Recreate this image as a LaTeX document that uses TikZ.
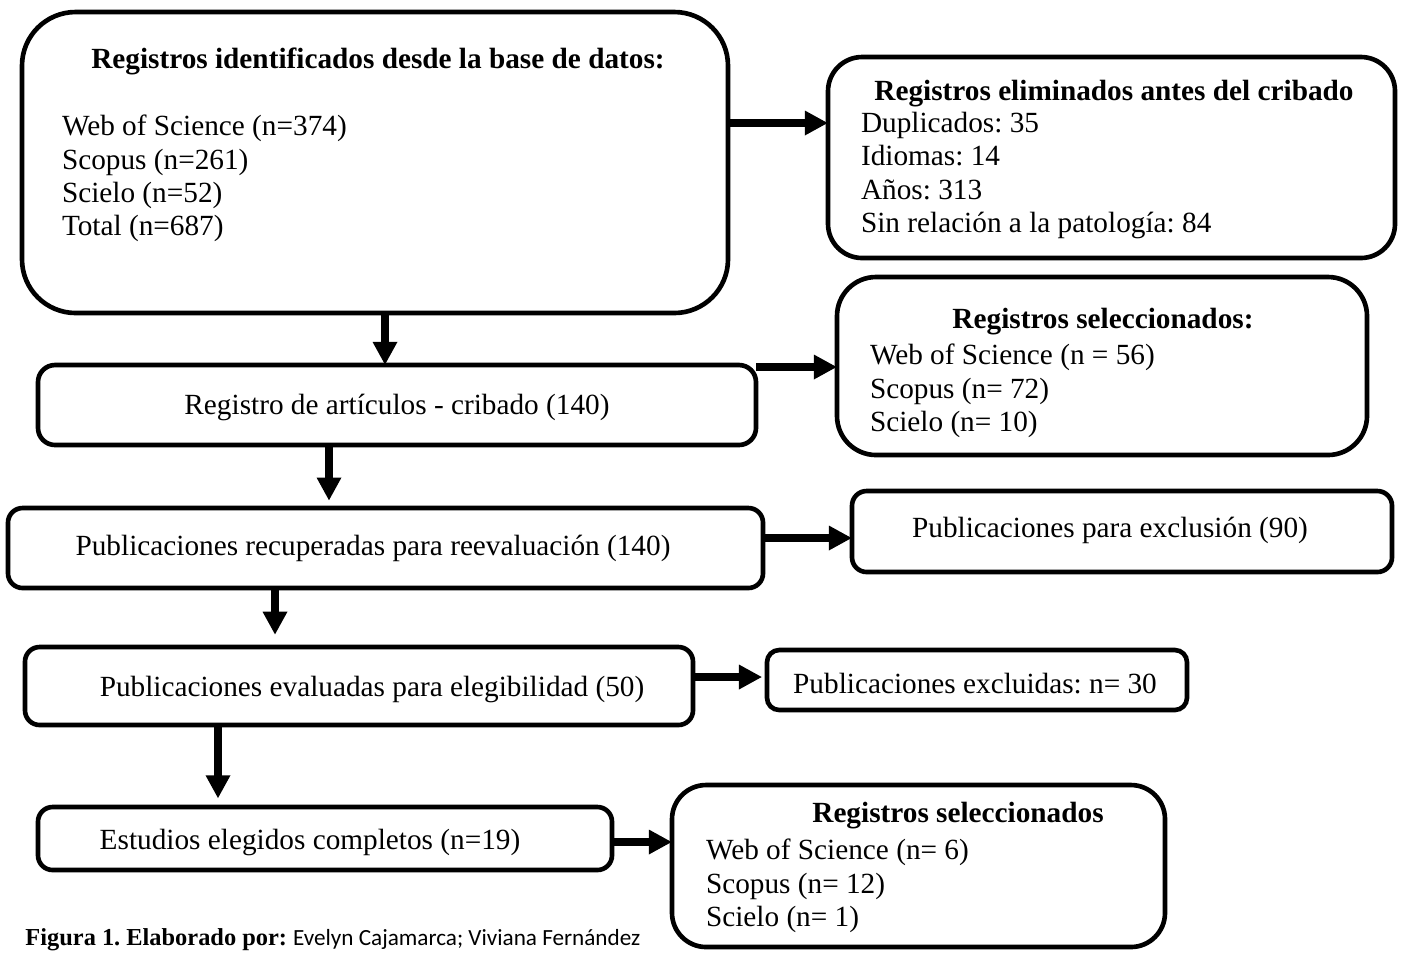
\documentclass[tikz,border=0pt]{standalone}
\usepackage{fontspec}
\setmainfont{Liberation Serif}
\newfontfamily\calibri{Carlito}
\usetikzlibrary{arrows.meta,fit}
\frenchspacing
\begin{document}
\begin{tikzpicture}[x=0.41pt,y=-0.41pt,
  box/.style={draw,line width=1.9pt,inner sep=0pt,outer sep=0pt},
  arr/.style={line width=2.9pt,-{Triangle[length=9.5pt,width=9.5pt]}},
  txt/.style={inner sep=0pt,outer sep=0pt,font=\fontsize{12}{13.7}\selectfont},
  lst/.style={txt,align=left,anchor=north west},
  ttl/.style={txt,anchor=base,font=\fontsize{12}{13.7}\selectfont\bfseries}]
\useasboundingbox (0,0) rectangle (1405,952);
\clip (0,0) rectangle (1405,952);
% boxes
\node[box,rounded corners=22pt,fit={(22,12) (728,313)}] (b1) {};
\node[box,rounded corners=14pt,fit={(828,57) (1395,258)}] (b2) {};
\node[box,rounded corners=7pt,fit={(38,365) (756,445)}] (b3) {};
\node[box,rounded corners=16pt,fit={(837,277) (1367,455)}] (b4) {};
\node[box,rounded corners=6pt,fit={(8,508) (763,588)}] (b5) {};
\node[box,rounded corners=6pt,fit={(852,491) (1392,572)}] (b6) {};
\node[box,rounded corners=6pt,fit={(25,647) (693,725)}] (b7) {};
\node[box,rounded corners=5pt,fit={(767,650) (1187,710)}] (b8) {};
\node[box,rounded corners=6pt,fit={(38,807) (612,870)}] (b9) {};
\node[box,rounded corners=14pt,fit={(672,785) (1165,947)}] (b10) {};
% texts
\node[ttl] (t1) at (378,68) {Registros identificados desde la base de datos:};
\node[lst] (l1) at (62,115) {Web of Science (n=374)\\Scopus (n=261)\\Scielo (n=52)\\Total (n=687)};
\node[ttl] (t2) at (1114,100) {Registros eliminados antes del cribado};
\node[lst] (l2) at (861,112) {Duplicados: 35\\Idiomas: 14\\Años: 313\\Sin relación a la patología: 84};
\node[txt,anchor=base] (t3) at (397,414) {Registro de artículos - cribado (140)};
\node[ttl] (t4) at (1103,328) {Registros seleccionados:};
\node[lst] (l4) at (870,344) {Web of Science (n = 56)\\Scopus (n= 72)\\Scielo (n= 10)};
\node[txt,anchor=base] (t5) at (373,555) {Publicaciones recuperadas para reevaluación (140)};
\node[txt,anchor=base] (t6) at (1110,537) {Publicaciones para exclusión (90)};
\node[txt,anchor=base] (t7) at (372,696) {Publicaciones evaluadas para elegibilidad (50)};
\node[txt,anchor=base] (t8) at (975,693) {Publicaciones excluidas: n= 30};
\node[txt,anchor=base] (t9) at (310,849) {Estudios elegidos completos (n=19)};
\node[ttl] (t10) at (958,822) {Registros seleccionados};
\node[lst] (l10) at (706,839) {Web of Science (n= 6)\\Scopus (n= 12)\\Scielo (n= 1)};
\node[inner sep=0pt,anchor=base west] (cap) at (25,945) {\fontsize{10}{12}\selectfont\bfseries Figura 1. Elaborado por: \calibri\mdseries\fontsize{9.5}{12}\selectfont Evelyn Cajamarca; Viviana Fernández};
% arrow levels
\coordinate (y1) at (0,123);
\coordinate (x2) at (385,0);
\coordinate (y3) at (0,367);
\coordinate (x4) at (329,0);
\coordinate (y5) at (0,538);
\coordinate (x6) at (275,0);
\coordinate (y7) at (0,677);
\coordinate (x8) at (218,0);
\coordinate (y9) at (0,842);
\draw[arr] (b1.east |- y1) -- (b2.west |- y1);
\draw[arr] (x2 |- b1.south) -- (x2 |- b3.north);
\draw[arr] (b3.east |- y3) -- (b4.west |- y3);
\draw[arr,shorten >=3pt] (x4 |- b3.south) -- (x4 |- b5.north);
\draw[arr] (b5.east |- y5) -- (b6.west |- y5);
\draw[arr,shorten >=5pt] (x6 |- b5.south) -- (x6 |- b7.north);
\draw[arr,shorten >=2pt] (b7.east |- y7) -- (b8.west |- y7);
\draw[arr,shorten >=3.5pt] (x8 |- b7.south) -- (x8 |- b9.north);
\draw[arr] (b9.east |- y9) -- (b10.west |- y9);
\end{tikzpicture}
\end{document}
